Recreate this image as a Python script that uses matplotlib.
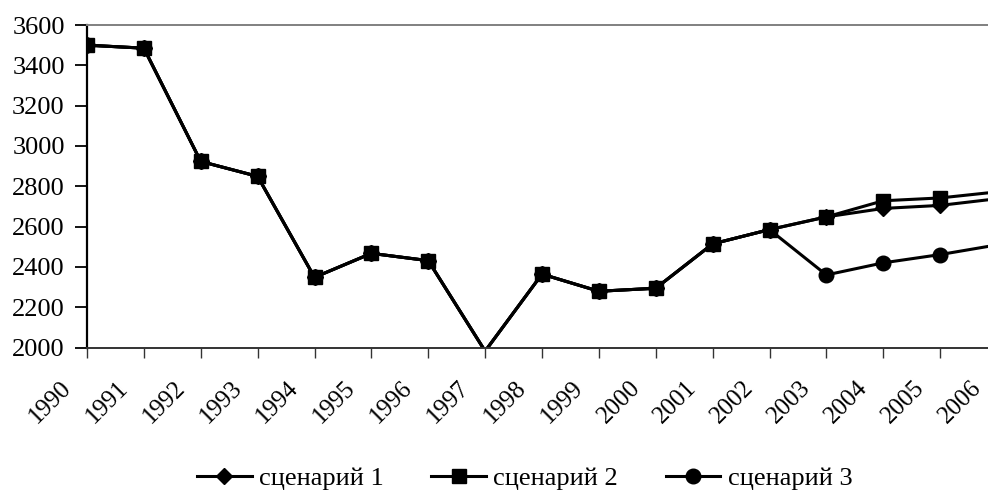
import matplotlib
matplotlib.use("Agg")
import matplotlib.pyplot as plt
import matplotlib.transforms as mtransforms

plt.rcParams['font.family'] = ['Liberation Serif', 'DejaVu Serif']

years = list(range(1990, 2007))
scen1 = [3500, 3485, 2923, 2849, 2348, 2467, 2431, 1982, 2364, 2279, 2294, 2514, 2585, 2648, 2690, 2705, 2738]
scen2 = [3500, 3485, 2923, 2849, 2348, 2467, 2431, 1982, 2364, 2279, 2294, 2514, 2585, 2648, 2728, 2742, 2772]
scen3 = [3500, 3485, 2923, 2849, 2348, 2467, 2431, 1982, 2364, 2279, 2294, 2514, 2585, 2360, 2420, 2461, 2509]
labels = ['сценарий 1', 'сценарий 2', 'сценарий 3']

fig = plt.figure(figsize=(9.88, 4.93), dpi=100)
# axes runs a bit past the right edge, as in the cropped original
ax = fig.add_axes([87 / 988, 1 - 347.5 / 493, (997 - 87) / 988, 322.5 / 493])

# point below the axis floor gets no marker
shown = [i for i, v in enumerate(scen1) if v >= 2000]

ax.plot(years, scen1, color='black', lw=2.2, marker='D', ms=8, markevery=shown, label=labels[0])
ax.plot(years, scen2, color='black', lw=2.2, marker='s', ms=10.5, markevery=shown, label=labels[1])
ax.plot(years, scen3, color='black', lw=2.2, marker='o', ms=10.5, markevery=shown, label=labels[2])

ax.set_xlim(1990, 2006)
ax.set_ylim(2000, 3600)
ax.set_yticks(range(2000, 3601, 200))
ax.set_xticks(years)
ax.set_xticklabels([str(y) for y in years], rotation=45, ha='right', va='top',
                   rotation_mode='anchor')

ax.tick_params(axis='y', length=9, width=1.3, pad=7, labelsize=19, color='black')
ax.tick_params(axis='x', length=7, width=1.0, pad=14, labelsize=18, color='#333333')
shift = mtransforms.ScaledTranslation(-27 / 100, 0, fig.dpi_scale_trans)
for lab in ax.get_xticklabels():
    lab.set_transform(lab.get_transform() + shift)

ax.spines['left'].set_color('black')
ax.spines['left'].set_linewidth(1.6)
ax.spines['bottom'].set_color('#333333')
ax.spines['bottom'].set_linewidth(1.4)
ax.spines['top'].set_color('#808080')
ax.spines['top'].set_linewidth(1.4)
ax.spines['right'].set_visible(False)

fig.legend(loc='center', bbox_to_anchor=(0.531, 0.03), ncol=3, frameon=False,
           fontsize=19, handlelength=2.08, handletextpad=0.27, columnspacing=1.8)

fig.savefig('out.png', dpi=100)
